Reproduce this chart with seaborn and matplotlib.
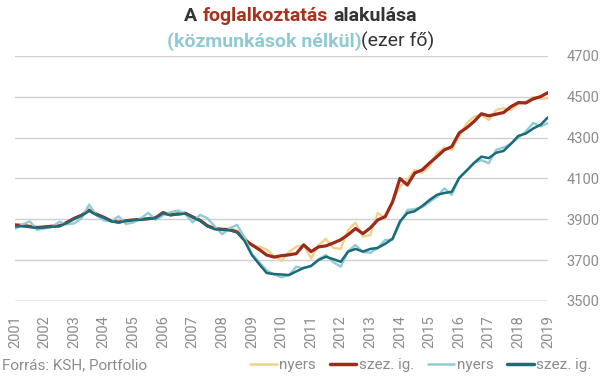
import numpy as np
import pandas as pd
import matplotlib
matplotlib.use("Agg")
import matplotlib.pyplot as plt
import seaborn as sns
from matplotlib.offsetbox import TextArea, HPacker, VPacker, AnchoredOffsetbox
from matplotlib.lines import Line2D

# negyedéves adatok, 2001 I. - 2019 I. (ezer fő)
osszes_nyers = [
    3870, 3872, 3868, 3858,
    3862, 3868, 3870, 3882,
    3900, 3922, 3940, 3922,
    3905, 3895, 3892, 3890,
    3895, 3903, 3905, 3904,
    3930, 3925, 3930, 3926,
    3908, 3898, 3872, 3852,
    3850, 3858, 3845, 3815,
    3770, 3766, 3752, 3720,
    3697, 3740, 3766, 3774,
    3708, 3774, 3804, 3760,
    3755, 3848, 3884, 3815,
    3823, 3931, 3907, 3990,
    4060, 4093, 4142, 4127,
    4160, 4225, 4250, 4240,
    4306, 4370, 4403, 4412,
    4387, 4436, 4444, 4436,
    4465, 4475, 4500, 4490,
    4493,
]
osszes_szez = [
    3873, 3870, 3865, 3860,
    3863, 3866, 3868, 3885,
    3905, 3920, 3945, 3925,
    3910, 3892, 3886, 3893,
    3897, 3900, 3903, 3908,
    3933, 3922, 3926, 3930,
    3912, 3895, 3868, 3855,
    3851, 3849, 3838, 3800,
    3775, 3752, 3725, 3715,
    3722, 3726, 3732, 3775,
    3742, 3765, 3770, 3784,
    3800, 3825, 3855, 3830,
    3858, 3897, 3913, 3985,
    4100, 4068, 4127, 4142,
    4176, 4207, 4240, 4256,
    4323, 4348, 4379, 4417,
    4407, 4415, 4423, 4452,
    4472, 4470, 4490, 4501,
    4521,
]
kozm_nelkul_nyers = [
    3853, 3875, 3890, 3848,
    3855, 3862, 3888, 3875,
    3880, 3905, 3972, 3920,
    3895, 3890, 3915, 3877,
    3885, 3905, 3932, 3897,
    3920, 3935, 3943, 3926,
    3885, 3922, 3905, 3865,
    3827, 3856, 3873, 3810,
    3730, 3690, 3650, 3630,
    3616, 3627, 3668, 3660,
    3670, 3705, 3725, 3690,
    3668, 3745, 3774, 3740,
    3736, 3760, 3799, 3800,
    3880, 3946, 3950, 3960,
    3985, 4010, 4052, 4020,
    4100, 4140, 4176, 4190,
    4175, 4240, 4252, 4270,
    4300, 4330, 4372, 4355,
    4372,
]
kozm_nelkul_szez = [
    3865, 3866, 3862, 3858,
    3860, 3864, 3866, 3882,
    3902, 3918, 3942, 3922,
    3908, 3890, 3885, 3892,
    3896, 3898, 3902, 3906,
    3930, 3920, 3925, 3928,
    3910, 3893, 3866, 3852,
    3848, 3847, 3836, 3795,
    3725, 3680, 3637, 3632,
    3630, 3627, 3645, 3662,
    3672, 3701, 3717, 3705,
    3692, 3742, 3755, 3742,
    3755, 3760, 3780, 3805,
    3890, 3931, 3940, 3965,
    3995, 4020, 4029, 4035,
    4103, 4138, 4176, 4207,
    4200, 4226, 4235, 4270,
    4309, 4320, 4345, 4363,
    4400,
]
evek = list(range(2001, 2020))
y_tickek = [3500, 3700, 3900, 4100, 4300, 4500, 4700]

ido = 2001 + np.arange(len(osszes_szez)) / 4
df = pd.DataFrame({
    "ido": ido,
    "osszes_nyers": osszes_nyers,
    "osszes_szez": osszes_szez,
    "kozm_nelkul_nyers": kozm_nelkul_nyers,
    "kozm_nelkul_szez": kozm_nelkul_szez,
})

sns.set_style("white")
plt.rcParams["font.family"] = ["Roboto", "DejaVu Sans"]
plt.rcParams["axes.grid"] = False

szinek = {
    "osszes_nyers": "#F3D18C",
    "osszes_szez": "#9E2A1B",
    "kozm_nelkul_nyers": "#93CBD2",
    "kozm_nelkul_szez": "#1C6B78",
}
vastag = {"osszes_nyers": 1.7, "osszes_szez": 2.3,
          "kozm_nelkul_nyers": 1.7, "kozm_nelkul_szez": 1.8}
szurke = "#8C8C8C"

fig = plt.figure(figsize=(6.05, 3.78), dpi=100)
ax = fig.add_axes([15 / 605, 1 - 301 / 378, 533 / 605, 245 / 378])

for oszlop in ["osszes_nyers", "osszes_szez", "kozm_nelkul_nyers", "kozm_nelkul_szez"]:
    sns.lineplot(data=df, x="ido", y=oszlop, color=szinek[oszlop],
                 lw=vastag[oszlop], ax=ax)

ax.set_xlim(2001, 2019)
ax.set_ylim(3500, 4700)
ax.set_xticks(evek)
ax.set_xticklabels([str(e) for e in evek], rotation=90)
ax.set_yticks(y_tickek)
ax.yaxis.tick_right()
ax.tick_params(axis="x", bottom=False, top=False, labelbottom=True,
               labelsize=10.5, labelcolor=szurke, pad=7)
ax.tick_params(axis="y", left=False, right=False, labelright=True,
               labelsize=10.5, labelcolor=szurke, pad=10)
ax.set_xlabel("")
ax.set_ylabel("")
for s in ax.spines.values():
    s.set_visible(False)
ax.grid(False)
# vízszintes rácsvonalak kézzel
for t in y_tickek[1:]:
    ax.axhline(t, color="#D0D0D0", lw=1, zorder=0)
ax.axhline(3500, color="#8A8A8A", lw=1, zorder=0)

# cím, kétféle színnel
sor1 = HPacker(children=[
    TextArea("A", textprops=dict(color="#333333", fontsize=14, fontweight="bold")),
    TextArea("foglalkoztatás", textprops=dict(color="#A8321F", fontsize=14, fontweight="bold")),
    TextArea("alakulása", textprops=dict(color="#333333", fontsize=14, fontweight="bold")),
], sep=4, align="baseline")
sor2 = HPacker(children=[
    TextArea("(közmunkások nélkül)", textprops=dict(color="#8FCAD3", fontsize=14, fontweight="bold")),
    TextArea("(ezer fő)", textprops=dict(color="#333333", fontsize=14)),
], sep=0, align="baseline")
cim = VPacker(children=[sor1, sor2], sep=5, align="center")
doboz = AnchoredOffsetbox(loc="upper center", child=cim, frameon=False,
                          bbox_to_anchor=(0.497, 0.99), bbox_transform=fig.transFigure,
                          pad=0.1, borderpad=0.1)
fig.add_artist(doboz)

fig.text(0.004, 0.034, "Forrás: KSH, Portfolio", color=szurke, fontsize=11, va="center")

kezelok = [Line2D([0], [0], color=szinek[k], lw=2.5 if k.endswith("szez") else 1.8)
           for k in ["osszes_nyers", "osszes_szez", "kozm_nelkul_nyers", "kozm_nelkul_szez"]]
fig.legend(kezelok, ["nyers", "szez. ig.", "nyers", "szez. ig."], ncol=4,
           loc="center right", bbox_to_anchor=(0.978, 0.034), frameon=False,
           fontsize=11, labelcolor=szurke, handlelength=1.75, handletextpad=0.15,
           columnspacing=0.9, borderpad=0, borderaxespad=0)

fig.savefig("out.png", dpi=100)
